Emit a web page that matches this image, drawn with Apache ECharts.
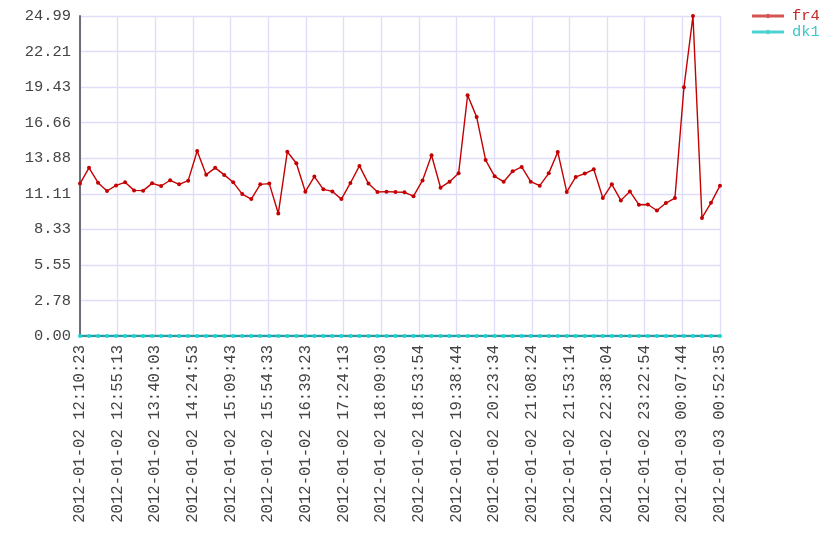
<!DOCTYPE html>
<html>
<head>
<meta charset="utf-8">
<script src="https://cdn.jsdelivr.net/npm/echarts@6/dist/echarts.min.js"></script>
<style>
  html, body { margin: 0; padding: 0; background: #fff; }
  #chart { width: 840px; height: 560px; }
</style>
</head>
<body>
<div id="chart"></div>
<script>
const times = [
  '2012-01-02 12:10:23', '2012-01-02 12:21:07', '2012-01-02 12:31:51', '2012-01-02 12:42:35',
  '2012-01-02 12:53:19', '2012-01-02 13:04:04', '2012-01-02 13:14:48', '2012-01-02 13:25:32',
  '2012-01-02 13:36:16', '2012-01-02 13:47:00', '2012-01-02 13:57:44', '2012-01-02 14:08:28',
  '2012-01-02 14:19:12', '2012-01-02 14:29:56', '2012-01-02 14:40:41', '2012-01-02 14:51:25',
  '2012-01-02 15:02:09', '2012-01-02 15:12:53', '2012-01-02 15:23:37', '2012-01-02 15:34:21',
  '2012-01-02 15:45:05', '2012-01-02 15:55:49', '2012-01-02 16:06:33', '2012-01-02 16:17:18',
  '2012-01-02 16:28:02', '2012-01-02 16:38:46', '2012-01-02 16:49:30', '2012-01-02 17:00:14',
  '2012-01-02 17:10:58', '2012-01-02 17:21:42', '2012-01-02 17:32:26', '2012-01-02 17:43:10',
  '2012-01-02 17:53:55', '2012-01-02 18:04:39', '2012-01-02 18:15:23', '2012-01-02 18:26:07',
  '2012-01-02 18:36:51', '2012-01-02 18:47:35', '2012-01-02 18:58:19', '2012-01-02 19:09:03',
  '2012-01-02 19:19:48', '2012-01-02 19:30:32', '2012-01-02 19:41:16', '2012-01-02 19:52:00',
  '2012-01-02 20:02:44', '2012-01-02 20:13:28', '2012-01-02 20:24:12', '2012-01-02 20:34:56',
  '2012-01-02 20:45:40', '2012-01-02 20:56:25', '2012-01-02 21:07:09', '2012-01-02 21:17:53',
  '2012-01-02 21:28:37', '2012-01-02 21:39:21', '2012-01-02 21:50:05', '2012-01-02 22:00:49',
  '2012-01-02 22:11:33', '2012-01-02 22:22:17', '2012-01-02 22:33:02', '2012-01-02 22:43:46',
  '2012-01-02 22:54:30', '2012-01-02 23:05:14', '2012-01-02 23:15:58', '2012-01-02 23:26:42',
  '2012-01-02 23:37:26', '2012-01-02 23:48:10', '2012-01-02 23:58:54', '2012-01-03 00:09:39',
  '2012-01-03 00:20:23', '2012-01-03 00:31:07', '2012-01-03 00:41:51', '2012-01-03 00:52:35'
];

const fr4 = [
  11.90, 13.13, 11.97, 11.32, 11.76, 12.00, 11.37, 11.35, 11.92, 11.71, 12.16, 11.84,
  12.13, 14.44, 12.60, 13.13, 12.58, 12.00, 11.08, 10.69, 11.84, 11.90, 9.56, 14.39,
  13.49, 11.27, 12.45, 11.45, 11.29, 10.69, 11.95, 13.28, 11.90, 11.24, 11.27, 11.24,
  11.22, 10.92, 12.15, 14.11, 11.58, 12.05, 12.70, 18.80, 17.11, 13.74, 12.47, 12.05,
  12.86, 13.20, 12.05, 11.74, 12.70, 14.37, 11.25, 12.42, 12.68, 13.02, 10.77, 11.84,
  10.59, 11.29, 10.25, 10.27, 9.80, 10.38, 10.77, 19.42, 24.987, 9.22, 10.40, 11.74
];

const dk1 = [
  0, 0, 0, 0, 0, 0, 0, 0, 0, 0, 0, 0, 0, 0, 0, 0, 0, 0, 0, 0, 0, 0, 0, 0,
  0, 0, 0, 0, 0, 0, 0, 0, 0, 0, 0, 0, 0, 0, 0, 0, 0, 0, 0, 0, 0, 0, 0, 0,
  0, 0, 0, 0, 0, 0, 0, 0, 0, 0, 0, 0, 0, 0, 0, 0, 0, 0, 0, 0, 0, 0, 0, 0
];

const yMax = 24.987;
const xSplits = 17;
const ySplits = 9;

const FONT = "'Liberation Mono', 'DejaVu Sans Mono', monospace";
// thick line with a small dot in the middle, like the original legend keys
const LEGEND_ICON = 'path://M0,0.5 L32,0.5 L32,3.5 L0,3.5 Z M18.2,2 A2.2,2.2 0 1,1 13.8,2 A2.2,2.2 0 1,1 18.2,2 Z';

function toSec(s) {
  return Date.UTC(+s.slice(0, 4), +s.slice(5, 7) - 1, +s.slice(8, 10),
    +s.slice(11, 13), +s.slice(14, 16), +s.slice(17, 19)) / 1000;
}
const pad = (n) => String(n).padStart(2, '0');
function fmt(sec) {
  const d = new Date(sec * 1000);
  return d.getUTCFullYear() + '-' + pad(d.getUTCMonth() + 1) + '-' + pad(d.getUTCDate()) + ' ' +
    pad(d.getUTCHours()) + ':' + pad(d.getUTCMinutes()) + ':' + pad(d.getUTCSeconds());
}

const t0 = toSec(times[0]);
const span = toSec(times[times.length - 1]) - t0;
const fr4Data = times.map((t, i) => [toSec(t) - t0, fr4[i]]);
const dk1Data = times.map((t, i) => [toSec(t) - t0, dk1[i]]);

const gridLine = { show: true, lineStyle: { color: '#dedef8', width: 1.3 } };

const chart = echarts.init(document.getElementById('chart'), null, { renderer: 'canvas' });
chart.setOption({
  animation: false,
  textStyle: { fontFamily: FONT },
  grid: { left: 80, right: 120, top: 16, bottom: 224 },
  legend: {
    orient: 'vertical', left: 752, top: 8, padding: 0,
    itemWidth: 32, itemHeight: 14, itemGap: 0,
    icon: LEGEND_ICON, symbolKeepAspect: true,
    textStyle: { fontFamily: FONT, fontSize: 15.5, lineHeight: 14, padding: [0, 0, 0, 3] },
    data: [
      { name: 'fr4', textStyle: { color: '#c42a2a' }, itemStyle: { color: '#d65454' } },
      { name: 'dk1', textStyle: { color: '#3cc8c8' }, itemStyle: { color: '#4cd2d2' } },
    ],
  },
  xAxis: {
    type: 'value', min: 0, max: span, interval: span / xSplits,
    axisLine: { show: true, lineStyle: { color: '#6e6e78', width: 2 } },
    axisTick: { show: false },
    splitLine: gridLine,
    axisLabel: {
      rotate: 90, margin: 9, color: '#444', fontFamily: FONT, fontSize: 15.6,
      showMinLabel: true, showMaxLabel: true,
      formatter: (v) => fmt(t0 + Math.floor(v + 1e-6)),
    },
  },
  yAxis: {
    type: 'value', min: 0, max: yMax, interval: yMax / ySplits,
    axisLine: { show: true, lineStyle: { color: '#6e6e78', width: 2 } },
    axisTick: { show: false },
    splitLine: gridLine,
    axisLabel: {
      margin: 9, color: '#444', fontFamily: FONT, fontSize: 15.4,
      formatter: (v) => v.toFixed(2),
    },
  },
  series: [
    {
      name: 'fr4', type: 'line', data: fr4Data,
      symbol: 'circle', symbolSize: 4, showAllSymbol: true,
      lineStyle: { color: '#c40000', width: 1.4 },
      itemStyle: { color: '#c40000' },
    },
    {
      name: 'dk1', type: 'line', data: dk1Data,
      symbol: 'circle', symbolSize: 4, showAllSymbol: true,
      lineStyle: { color: '#2a9c9c', width: 2.5 },
      itemStyle: { color: '#18d4d4' },
    },
  ],
});
</script>
</body>
</html>
